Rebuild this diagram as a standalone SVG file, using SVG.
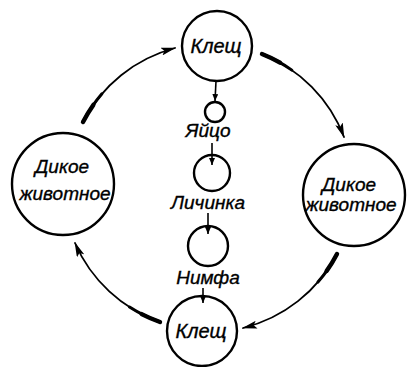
<svg xmlns="http://www.w3.org/2000/svg" width="407" height="367" viewBox="0 0 407 367">
<style>
.n{fill:none;stroke:#000;stroke-width:2.4}
.t{font-family:"Liberation Sans",Arial,sans-serif;font-style:italic;font-size:19px;fill:#000;stroke:#000;stroke-width:0.35;text-anchor:middle}
.k{font-size:20px}
.c{fill:none;stroke:#000;stroke-width:1.8;stroke-linecap:round}
.w1{fill:none;stroke:#000;stroke-width:3;stroke-dasharray:34 2000;stroke-linecap:round}
.w2{fill:none;stroke:#000;stroke-width:4.4;stroke-dasharray:20 2000;stroke-linecap:round}
.s{fill:none;stroke:#000;stroke-width:1.6}
</style>
<defs>
<marker id="ah" viewBox="0 0 15 8" refX="14" refY="4" markerWidth="15" markerHeight="8" markerUnits="userSpaceOnUse" orient="auto">
<path d="M0,0 L15,4 L0,8 L3,4 Z" fill="#000"/>
</marker>
<marker id="sa" viewBox="0 0 7 6" refX="7" refY="3" markerWidth="7" markerHeight="6" markerUnits="userSpaceOnUse" orient="auto">
<path d="M0,0 L7,3 L0,6 Z" fill="#000"/>
</marker>
<path id="a1" d="M83,122 A145,145 0 0 1 175,48"/>
<path id="a2" d="M262,54 A145,145 0 0 1 344,137"/>
<path id="a3" d="M337,254 A145,145 0 0 1 243,328"/>
<path id="a4" d="M160,322 A145,145 0 0 1 75,243"/>
</defs>
<g id="connectors">
<use href="#a1" class="c" marker-end="url(#ah)"/>
<use href="#a1" class="w1"/><use href="#a1" class="w2"/>
<use href="#a2" class="c" marker-end="url(#ah)"/>
<use href="#a2" class="w1"/><use href="#a2" class="w2"/>
<use href="#a3" class="c" marker-end="url(#ah)"/>
<use href="#a3" class="w1"/><use href="#a3" class="w2"/>
<use href="#a4" class="c" marker-end="url(#ah)"/>
<use href="#a4" class="w1"/><use href="#a4" class="w2"/>
<line class="s" x1="216" y1="81" x2="215" y2="101" marker-end="url(#sa)"/>
<line class="s" x1="212" y1="143" x2="212" y2="165" marker-end="url(#sa)"/>
<line class="s" x1="208" y1="213" x2="208" y2="234" marker-end="url(#sa)"/>
<line class="s" x1="203" y1="288" x2="203" y2="303" marker-end="url(#sa)"/>
</g>
<g id="tick-top"><circle class="n" cx="217" cy="46" r="35"/><text class="t k" x="216" y="53">Клещ</text></g>
<g id="wild-left"><circle class="n" cx="63" cy="184" r="51"/><text class="t" x="62" y="173">Дикое</text><text class="t" x="65" y="200">животное</text></g>
<g id="wild-right"><circle class="n" cx="354" cy="195" r="51"/><text class="t" x="349" y="191">Дикое</text><text class="t" x="351" y="211">животное</text></g>
<g id="egg"><circle class="n" cx="215" cy="112" r="10"/><text class="t" x="208" y="137">Яйцо</text></g>
<g id="larva"><circle class="n" cx="212" cy="173" r="18"/><text class="t" x="208" y="209">Личинка</text></g>
<g id="nymph"><circle class="n" cx="208" cy="246" r="20"/><text class="t" x="208" y="284">Нимфа</text></g>
<g id="tick-bottom"><circle class="n" cx="202" cy="331" r="35"/><text class="t k" x="201" y="338">Клещ</text></g>
</svg>
